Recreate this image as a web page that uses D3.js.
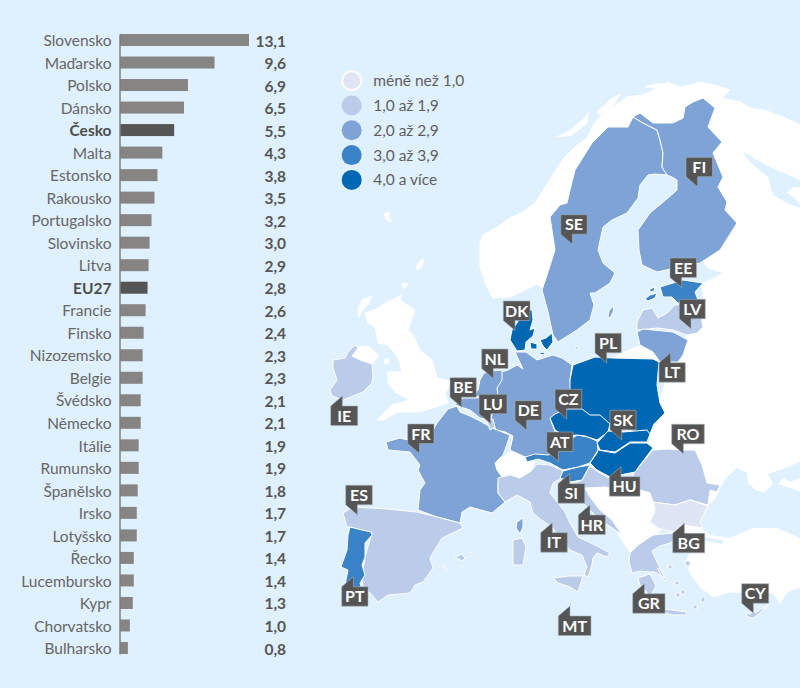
<!DOCTYPE html>
<html>
<head>
<meta charset="utf-8">
<script src="https://cdn.jsdelivr.net/npm/d3@7"></script>
<style>
  html, body { margin: 0; padding: 0; background: #dff1fe; }
  svg { display: block; font-family: Lato, sans-serif; }
</style>
</head>
<body>
<div id="chart"></div>
<script>
// Chart values
const countries = ['Slovensko', 'Maďarsko', 'Polsko', 'Dánsko', 'Česko', 'Malta', 'Estonsko', 'Rakousko',
    'Portugalsko', 'Slovinsko', 'Litva', 'EU27', 'Francie', 'Finsko', 'Nizozemsko', 'Belgie', 'Švédsko',
    'Německo', 'Itálie', 'Rumunsko', 'Španělsko', 'Irsko', 'Lotyšsko', 'Řecko', 'Lucembursko', 'Kypr',
    'Chorvatsko', 'Bulharsko'];
const values = [13.1, 9.6, 6.9, 6.5, 5.5, 4.3, 3.8, 3.5, 3.2, 3.0, 2.9, 2.8, 2.6, 2.4, 2.3, 2.3, 2.1, 2.1,
    1.9, 1.9, 1.8, 1.7, 1.7, 1.4, 1.4, 1.3, 1.0, 0.8];
const codes = ['SK', 'HU', 'PL', 'DK', 'CZ', 'MT', 'EE', 'AT', 'PT', 'SI', 'LT', null, 'FR', 'FI', 'NL', 'BE',
    'SE', 'DE', 'IT', 'RO', 'ES', 'IE', 'LV', 'GR', 'LU', 'CY', 'HR', 'BG'];
const highlighted = ['Česko', 'EU27'];

// Legend classes
const classBreaks = [1, 2, 3, 4];
const classLabels = ['méně než 1,0', '1,0 až 1,9', '2,0 až 2,9', '3,0 až 3,9', '4,0 a více'];
const classColors = ['#dfe5f5', '#bacce9', '#7ea3d6', '#3a83c6', '#0068b3'];

// Map outlines, in page pixels
const landShapes = [
    // Norway, runs under Sweden and Finland
    [[480,243],[483,235],[497,227],[510,218],[523,212],[535,203],[547,184],[556,170],[564,158],[575,147],[587,138],[595,122],[607,110],[622,101],[627,97],[643,95],[655,89],[668,82],[680,87],[690,85],[700,82],[715,85],[730,90],[722,98],[710,110],[660,125],[600,135],[575,200],[560,285],[545,290],[537,284],[523,291],[510,297],[493,298],[486,285],[480,267]],
    // Russia, Ukraine, Turkey, runs under the EU countries
    [[722,98],[740,102],[750,108],[767,111],[783,117],[800,125],[800,587],[787,592],[780,603],[773,593],[743,592],[730,592],[713,597],[700,587],[690,573],[687,560],[693,547],[700,540],[690,540],[682,537],[672,533],[650,520],[640,480],[650,440],[660,400],[670,365],[690,330],[700,300],[703,283],[715,278],[724,273],[708,268],[704,262],[700,200],[700,120]],
    // Balkans
    [[583,487],[605,487],[650,490],[660,530],[650,545],[635,550],[630,552],[622,540],[612,525],[600,515],[590,505]],
    // Kaliningrad
    [[613,358],[624,352],[637,347],[640,346],[653,352],[659,362]],
    // Great Britain
    [[387,302],[402,295],[400,300],[415,310],[408,330],[413,335],[420,350],[432,360],[437,378],[453,382],[445,393],[448,403],[420,412],[398,412],[383,420],[377,420],[392,405],[410,400],[395,392],[388,383],[388,372],[402,372],[400,363],[395,353],[387,345],[378,343],[375,327],[368,323],[365,313],[375,310]],
    // Northern Ireland
    [[355,347],[368,346],[379,356],[372,364],[360,360],[352,356]],
    // Scottish isles, Shetland, Faroe, Man
    [[362,300],[372,296],[368,304],[361,312],[359,318],[358,310]],
    [[403,283],[408,284],[405,288],[402,286]],
    [[417,265],[422,259],[424,260],[421,268],[417,270]],
    [[384,214],[390,212],[388,217],[392,222],[387,220]],
    [[385,359],[389,358],[388,364],[384,363]],
    // Switzerland
    [[495,463],[510,452],[525,456],[528,462],[535,462],[530,472],[520,478],[510,473],[500,477],[497,470]],
    // Norwegian islands
    [[557,137],[570,130],[585,118],[588,113],[587,123],[572,135]],
    [[597,112],[610,100],[620,94],[615,103],[600,115]],
    [[645,87],[655,84],[665,84],[658,88]]
];
const seaShapes = [
    // Black Sea and Azov
    [[720,488],[727,477],[737,468],[747,473],[748,483],[757,491],[765,492],[773,484],[768,474],[785,468],[800,462],[800,478],[790,482],[783,478],[778,484],[790,488],[800,492],[800,538],[777,528],[753,528],[730,538],[710,535],[703,530],[700,522],[706,510],[708,505],[716,498]],
    // White Sea
    [[743,152],[757,160],[770,167],[800,180],[800,187],[793,187],[787,193],[797,200],[800,205],[800,208],[787,203],[773,195],[768,177],[757,168],[748,160]],
    // Marmara, Peipus
    [[695,542],[705,537],[725,541],[722,544],[705,541]],
    [[699,287],[702,288],[703,300],[700,298]]
];
const countryShapes = {
    SE: [[[633,117],[643,123],[657,130],[660,140],[663,153],[662,167],[667,175],[655,174],[648,175],[640,185],[638,198],[627,213],[612,220],[603,227],[598,250],[603,263],[615,273],[610,283],[595,293],[590,293],[594,305],[590,320],[577,330],[558,342],[553,335],[548,312],[542,290],[547,275],[555,250],[550,217],[560,205],[567,203],[570,190],[575,170],[592,143],[608,127],[628,127]],
        [[608,317],[609,311],[614,305],[613,312],[610,318]]],
    FI: [[[633,117],[640,113],[653,123],[673,123],[683,118],[685,107],[693,102],[703,98],[715,108],[708,127],[722,142],[713,153],[723,177],[718,187],[727,202],[725,210],[737,223],[720,250],[700,263],[675,268],[657,272],[642,265],[639,250],[638,230],[650,213],[668,198],[677,190],[677,180],[672,177],[667,175],[662,167],[663,153],[660,140],[657,130],[643,123]]],
    EE: [[[660,287],[683,280],[703,283],[695,292],[698,300],[678,303],[672,297],[663,297]],
        [[645,299],[650,295],[657,293],[655,298],[648,301]], [[650,289],[655,287],[654,291],[650,292]]],
    LV: [[[637,330],[637,322],[643,310],[652,308],[658,318],[667,313],[675,305],[698,303],[703,327],[697,333],[687,335],[673,330],[657,328],[640,330]]],
    LT: [[[637,332],[643,329],[673,332],[688,340],[683,355],[678,362],[660,362],[653,352],[640,345]]],
    DE: [[[515,352],[526,352],[537,360],[553,355],[562,358],[572,365],[570,380],[572,395],[572,408],[560,412],[550,418],[555,432],[565,438],[575,440],[560,452],[548,456],[525,457],[510,450],[513,436],[505,432],[497,430],[491,423],[492,412],[497,400],[497,388],[501,372],[508,370],[517,365],[523,369]]],
    PL: [[[573,365],[595,357],[613,358],[653,359],[659,362],[657,385],[660,403],[665,413],[654,424],[650,434],[640,432],[627,430],[610,427],[603,423],[598,416],[590,417],[580,408],[572,408],[570,395],[570,380]]],
    CZ: [[[550,418],[555,414],[567,409],[582,409],[590,415],[600,415],[610,424],[608,432],[597,440],[585,436],[577,435],[565,436],[555,430]]],
    SK: [[[608,431],[623,432],[647,430],[650,434],[647,442],[630,442],[615,452],[600,450],[597,443]]],
    RO: [[[635,472],[643,462],[653,450],[668,449],[680,450],[695,450],[702,465],[707,483],[720,485],[717,492],[710,490],[708,505],[690,500],[675,505],[653,502],[650,493],[640,490],[628,484]]],
    HU: [[[598,450],[615,453],[630,443],[647,443],[653,448],[640,465],[635,472],[610,477],[597,470],[590,463],[597,453]]],
    AT: [[[525,457],[535,454],[548,455],[560,450],[570,440],[577,435],[588,437],[597,441],[598,450],[590,463],[578,467],[563,470],[550,463],[538,459],[527,462]]],
    IT: [[[498,478],[510,475],[520,478],[530,472],[537,464],[550,465],[563,471],[560,479],[553,483],[550,493],[558,503],[565,512],[570,523],[578,537],[595,545],[610,553],[607,557],[597,553],[593,558],[592,565],[588,577],[584,575],[587,567],[582,555],[570,550],[560,538],[552,527],[540,519],[533,513],[530,502],[517,495],[505,502],[498,493]],
        [[553,578],[570,576],[583,576],[578,592],[570,587],[558,583]],
        [[513,540],[522,538],[526,547],[523,565],[513,565]]],
    SI: [[[563,471],[578,467],[590,465],[582,480],[570,482],[560,478]]],
    HR: [[[582,480],[590,466],[597,471],[607,477],[625,485],[627,491],[605,487],[585,488],[590,497],[600,510],[612,520],[622,535],[615,530],[600,520],[585,505],[575,497],[570,485]]],
    BG: [[[653,502],[675,505],[690,500],[708,506],[700,522],[703,528],[683,525],[673,532],[658,528],[650,522],[655,510]]],
    GR: [[[630,553],[638,545],[653,535],[672,533],[680,537],[670,543],[660,546],[652,551],[657,562],[665,578],[655,572],[650,572],[640,571],[632,573],[629,562]],
        [[638,578],[650,574],[656,586],[650,597],[645,590],[640,585]],
        [[660,609],[672,610],[687,612],[685,615],[672,615],[662,612]],
        [[685,561],[690,561],[690,566],[686,566]], [[668,565],[672,565],[672,569],[668,569]],
        [[675,581],[679,581],[679,585],[675,585]], [[681,590],[685,590],[685,594],[681,594]],
        [[701,598],[705,596],[705,601],[701,603]], [[693,605],[697,605],[697,609],[693,609]],
        [[676,593],[680,593],[680,597],[676,597]], [[657,568],[660,569],[667,581],[664,580]]],
    CY: [[[746,614],[757,612],[768,605],[760,613],[753,618],[748,617]]],
    MT: [[[569,603],[572,604],[571,606]]],
    FR: [[[448,409],[457,406],[460,412],[470,416],[478,420],[487,425],[492,428],[510,435],[505,450],[503,455],[495,463],[497,470],[502,477],[498,483],[498,493],[505,502],[492,513],[470,507],[462,512],[460,523],[437,517],[418,510],[420,490],[425,483],[418,470],[420,465],[410,452],[388,450],[386,442],[400,438],[408,440],[420,434],[432,432],[437,423]],
        [[517,522],[523,518],[523,527],[520,534],[516,528]]],
    NL: [[[502,370],[502,380],[497,388],[498,396],[490,396],[482,396],[472,397],[478,390],[480,380],[484,373],[492,371]]],
    BE: [[[463,398],[475,398],[490,397],[497,400],[493,412],[490,420],[480,418],[470,410],[455,405]]],
    LU: [[[487,421],[493,419],[495,427],[490,430]]],
    ES: [[[343,513],[353,507],[387,509],[417,512],[437,517],[460,523],[463,528],[442,538],[430,558],[433,568],[423,582],[415,585],[410,593],[388,595],[378,602],[370,593],[363,587],[362,577],[365,557],[372,533],[350,527],[347,527]],
        [[455,557],[462,554],[465,558],[462,561]], [[470,552],[474,554],[472,556]], [[444,565],[447,569],[445,570]]],
    PT: [[[350,527],[362,530],[371,532],[372,535],[365,543],[365,557],[362,565],[365,575],[360,583],[362,590],[355,590],[345,585],[348,570],[341,567],[347,550],[348,535]]],
    IE: [[[333,360],[345,358],[348,352],[355,345],[358,348],[352,356],[360,360],[372,364],[373,375],[372,383],[363,392],[343,400],[332,396],[330,390],[337,380],[333,368]]],
    DK: [[[525,310],[532,310],[533,320],[530,330],[535,328],[533,336],[526,342],[525,350],[517,351],[510,340],[512,330],[517,323]],
        [[530,342],[537,344],[537,349],[531,349]], [[540,340],[546,338],[552,333],[553,342],[547,350],[543,346]],
        [[540,352],[545,353],[544,355],[540,354]], [[575,346],[578,347],[577,349]]]
};

// Order of drawing, neighbours overlap at their borders
const drawOrder = ['SE', 'FI', 'LV', 'LT', 'EE', 'DE', 'FR', 'NL', 'BE', 'LU', 'PL', 'RO', 'BG', 'IT', 'HR', 'SI', 'AT', 'CZ', 'HU', 'SK', 'ES', 'PT', 'IE', 'DK', 'GR', 'CY', 'MT'];

// Callout boxes: code, left, top, width, tail direction
const callouts = [
    ['FI', 686, 157.3, 26.5, 'down'], ['SE', 560.7, 214.7, 26.5, 'down'], ['EE', 670, 258, 26.5, 'down'],
    ['LV', 679.3, 299.3, 26, 'down'], ['DK', 503.3, 301, 26.7, 'down'], ['NL', 481.7, 349, 26.3, 'down'],
    ['BE', 450, 377.7, 26.3, 'down'], ['LU', 479, 394.3, 28, 'down'], ['DE', 515, 400.7, 26.7, 'down'],
    ['FR', 407.7, 424, 26.3, 'down'], ['IE', 330.7, 406, 27, 'up'], ['PL', 595, 333.3, 26.3, 'down'],
    ['LT', 659, 362.7, 26.3, 'up'], ['CZ', 555, 389.3, 26.7, 'down'], ['SK', 610, 410.3, 26, 'down'],
    ['RO', 671.7, 424.3, 32.6, 'down'], ['AT', 546.7, 432, 26.3, 'down'], ['HU', 609.3, 476.7, 30.7, 'up'],
    ['SI', 558, 483.7, 26.7, 'up'], ['HR', 578.3, 515, 27, 'up'], ['IT', 540.7, 532.7, 26.6, 'up'],
    ['BG', 672.7, 533.3, 32, 'up'], ['GR', 632.7, 593.7, 32.3, 'up'], ['MT', 558.3, 616, 32.7, 'up'],
    ['CY', 741.7, 583.7, 27, 'down'], ['ES', 345.7, 485.3, 26.6, 'down'], ['PT', 341.7, 586.7, 26.3, 'up']
];

const width = 800;
const height = 688;
const classColor = d3.scaleThreshold().domain(classBreaks).range(classColors);
const valueByCode = new Map(codes.map((c, i) => [c, values[i]]));
const formatValue = d3.formatLocale({ decimal: ',', thousands: ' ', grouping: [3], currency: ['', ''] }).format('.1f');

const svg = d3.select('#chart').append('svg')
    .attr('width', width)
    .attr('height', height);

// Map
const path = d3.geoPath(d3.geoIdentity());
const closeRing = ring => ring.concat([ring[0]]);
const polygons = rings => ({ type: 'MultiPolygon', coordinates: rings.map(r => [closeRing(r)]) });

const map = svg.append('g');

map.append('path')
    .datum(polygons(landShapes))
    .attr('d', path)
    .attr('fill', '#fff')
    .attr('stroke', '#fff')
    .attr('stroke-width', 1)
    .attr('stroke-linejoin', 'round');

map.append('path')
    .datum(polygons(seaShapes))
    .attr('d', path)
    .attr('fill', '#dff1fe');

map.selectAll('path.country')
    .data(drawOrder)
    .enter()
    .append('path')
    .attr('class', 'country')
    .attr('d', d => path(polygons(countryShapes[d])))
    .attr('fill', d => classColor(valueByCode.get(d)))
    .attr('stroke', '#fff')
    .attr('stroke-width', 1)
    .attr('stroke-linejoin', 'round');

// Bars
const y = d3.scaleBand()
    .domain(countries)
    .range([34, 654])
    .paddingInner(0.467);

const x = d3.scaleLinear()
    .domain([0, 13.1])
    .range([120, 249]);

const bars = svg.append('g');

bars.selectAll('rect')
    .data(countries)
    .enter()
    .append('rect')
    .attr('x', x(0))
    .attr('y', d => y(d))
    .attr('width', (d, i) => x(values[i]) - x(0))
    .attr('height', y.bandwidth())
    .attr('fill', d => highlighted.includes(d) ? '#555555' : '#878484');

const axis = svg.append('g')
    .attr('transform', 'translate(119.5,0)')
    .call(d3.axisLeft(y).tickSize(0).tickPadding(8));

axis.select('.domain')
    .attr('stroke', '#7f7f7f')
    .attr('stroke-width', 1.5);

axis.selectAll('text')
    .attr('fill', d => highlighted.includes(d) ? '#4d4d4d' : '#666666')
    .attr('dy', '0.4em')
    .style('font-family', 'Lato, sans-serif')
    .style('font-size', '15.5px')
    .style('font-weight', d => highlighted.includes(d) ? 700 : 400);

svg.append('g')
    .selectAll('text')
    .data(countries)
    .enter()
    .append('text')
    .attr('x', 286)
    .attr('y', d => y(d) + y.bandwidth() / 2)
    .attr('dy', '0.42em')
    .attr('text-anchor', 'end')
    .attr('fill', '#555555')
    .style('font-size', '15.5px')
    .style('font-weight', 700)
    .text((d, i) => formatValue(values[i]));

// Legend
const legend = svg.append('g')
    .selectAll('g')
    .data(classLabels)
    .enter()
    .append('g')
    .attr('transform', (d, i) => `translate(351.7,${80.7 + i * 24.8})`);

legend.append('circle')
    .attr('r', (d, i) => i === 0 ? 9.5 : 10)
    .attr('fill', (d, i) => classColors[i])
    .attr('stroke', (d, i) => i === 0 ? '#fff' : 'none')
    .attr('stroke-width', 2);

legend.append('text')
    .attr('x', 21.5)
    .attr('dy', '0.35em')
    .attr('fill', '#5f5f5f')
    .style('font-size', '15.5px')
    .text(d => d);

// Callouts
const boxHeight = 19.5;
const tailSize = 10;
const tailWidth = 11.7;

function calloutPath([, left, top, w, dir]) {
    const p = d3.path();
    p.moveTo(left, top);
    if (dir === 'up') {
        p.lineTo(left + tailWidth, top - tailSize);
        p.lineTo(left + tailWidth, top);
    }
    p.lineTo(left + w, top);
    p.lineTo(left + w, top + boxHeight);
    if (dir === 'down') {
        p.lineTo(left + tailWidth, top + boxHeight);
        p.lineTo(left + tailWidth, top + boxHeight + tailSize);
        p.lineTo(left, top + boxHeight);
    } else {
        p.lineTo(left, top + boxHeight);
    }
    p.closePath();
    return p.toString();
}

const labels = svg.append('g')
    .selectAll('g')
    .data(callouts)
    .enter()
    .append('g');

labels.append('path')
    .attr('d', calloutPath)
    .attr('fill', '#555555')
    .attr('stroke', '#a8b2ba')
    .attr('stroke-width', 0.6);

labels.append('text')
    .attr('x', d => d[1] + d[3] / 2)
    .attr('y', d => d[2] + boxHeight / 2)
    .attr('dy', '0.37em')
    .attr('text-anchor', 'middle')
    .attr('fill', '#fff')
    .style('font-size', '16px')
    .style('font-weight', 700)
    .text(d => d[0]);
</script>
</body>
</html>
